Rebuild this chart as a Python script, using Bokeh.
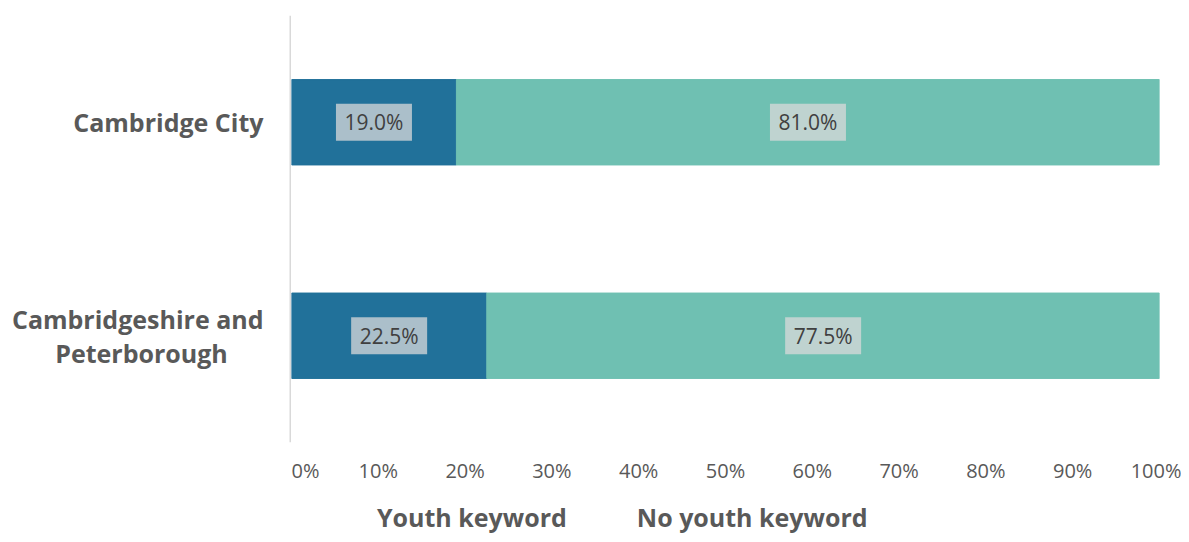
from bokeh.plotting import figure
from bokeh.layouts import column, row
from bokeh.models import ColumnDataSource, FactorRange, Range1d, FixedTicker, Legend, LegendItem, Span
from bokeh.core.properties import value
from bokeh.embed import file_html
from bokeh.resources import INLINE

categories = ["Cambridge City", "Cambridgeshire and Peterborough"]
youth = [19.0, 22.5]
no_youth = [81.0, 77.5]
series_names = ["Youth keyword", "No youth keyword"]
tick_values = [0, 10, 20, 30, 40, 50, 60, 70, 80, 90, 100]
tick_labels = ["0%", "10%", "20%", "30%", "40%", "50%", "60%", "70%", "80%", "90%", "100%"]
# how the long category name wraps in the original
wrapped = {"Cambridgeshire and Peterborough": ["Cambridgeshire and", "Peterborough"]}

DARK = "#21719a"
LIGHT = "#6fc0b2"
GREY = "#595959"
FONT = "Open Sans"

source = ColumnDataSource(dict(cat=categories, youth=youth, no_youth=no_youth))
yr = FactorRange(*reversed(categories))

# ---- main chart ----
p = figure(width=890, height=500, output_backend="svg", toolbar_location=None,
           y_range=yr, x_range=Range1d(0, 100),
           min_border_left=0, min_border_right=22, min_border_top=15, min_border_bottom=58)
p.outline_line_color = None
p.xgrid.visible = False
p.ygrid.visible = False
p.yaxis.visible = False

r = p.hbar_stack(["youth", "no_youth"], y="cat", height=0.4, color=[DARK, LIGHT], source=source)

lab = ColumnDataSource(dict(
    x=[v / 2 for v in youth] + [y + n / 2 for y, n in zip(youth, no_youth)],
    y=categories + categories,
    text=[f"{v:.1f}%" for v in youth] + [f"{v:.1f}%" for v in no_youth],
))
p.rect(x="x", y="y", width=76, height=37, width_units="screen", height_units="screen",
       source=lab, fill_color="#d9d9d9", fill_alpha=0.75, line_color=None)
p.text(x="x", y="y", text="text", source=lab, text_align="center", text_baseline="middle",
       text_font=value(FONT), text_font_size="21px", text_color="#404040")

p.xaxis.ticker = FixedTicker(ticks=tick_values)
p.xaxis.major_label_overrides = {v: s for v, s in zip(tick_values, tick_labels)}
p.xaxis.axis_line_color = None
p.xaxis.major_tick_line_color = None
p.xaxis.minor_tick_line_color = None
p.xaxis.major_label_standoff = 8
p.xaxis.major_label_text_font = FONT
p.xaxis.major_label_text_font_size = "20px"
p.xaxis.major_label_text_color = GREY

# ---- category label column ----
cf = figure(width=291, height=500, output_backend="svg", toolbar_location=None,
            y_range=yr, x_range=Range1d(0, 291),
            min_border_left=0, min_border_right=0, min_border_top=15, min_border_bottom=58)
cf.axis.visible = False
cf.grid.visible = False
cf.outline_line_color = None
cx, cy, ct, ca, co = [], [], [], [], []
for c in categories:
    lines = wrapped.get(c, [c])
    if len(lines) == 1:
        cx.append(263); cy.append(c); ct.append(c); ca.append("right"); co.append(0)
    else:
        cx += [263, 141]; cy += [c, c]; ct += lines; ca += ["right", "center"]; co += [-17, 17]
cf.text(x=cx, y=cy, text=ct, text_align=ca, y_offset=co, text_baseline="middle",
        text_font=value(FONT), text_font_style="bold", text_font_size="25px", text_color=GREY)
cf.add_layout(Span(location=290, dimension="height", line_color="#d9d9d9", line_width=2))

# ---- legend strip ----
lg = figure(width=1181, height=34, output_backend="svg", toolbar_location=None,
            x_range=Range1d(0, 1), y_range=Range1d(0, 1), min_border=0)
lg.axis.visible = False
lg.grid.visible = False
lg.outline_line_color = None
empty = ColumnDataSource(dict(y=[], left=[], right=[]))
lr1 = lg.hbar(y="y", left="left", right="right", height=1, color=DARK, source=empty)
lr2 = lg.hbar(y="y", left="left", right="right", height=1, color=LIGHT, source=empty)
legend = Legend(items=[LegendItem(label=series_names[0], renderers=[lr1]),
                       LegendItem(label=series_names[1], renderers=[lr2])],
                orientation="horizontal", location=(355, 0),
                label_text_font=FONT, label_text_font_style="bold", label_text_font_size="25px",
                label_text_color=GREY, glyph_width=15, glyph_height=15, label_standoff=7,
                spacing=48, border_line_color=None, background_fill_alpha=0, margin=0, padding=0)
lg.add_layout(legend)

layout = column(row(cf, p, spacing=0), lg, spacing=0)
open("out.html", "w").write(file_html(layout, INLINE))
